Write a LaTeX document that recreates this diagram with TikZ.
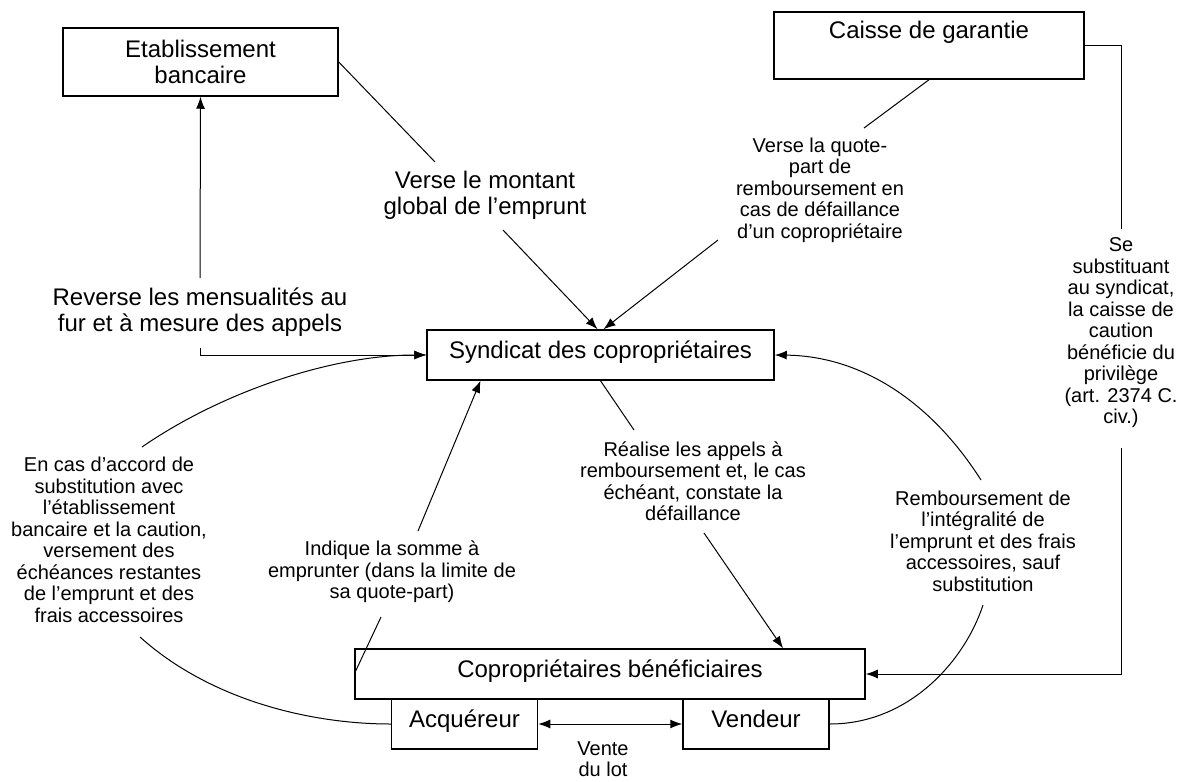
\documentclass[tikz,border=0pt]{standalone}
\usepackage{fontspec}
\setmainfont{Liberation Sans}
\usetikzlibrary{arrows.meta}
\newcommand{\BigFnt}{\fontsize{24}{26}\selectfont}
\newcommand{\SmallFnt}{\fontsize{20}{21.5}\selectfont}
\begin{document}
\begin{tikzpicture}[x=1pt,y=-1pt,
  box/.style={draw,line width=1.5pt,inner sep=0pt,align=center,font=\BigFnt},
  onebox/.style={box,text height=17.5pt,text depth=10pt},
  big/.style={align=center,font=\BigFnt,inner sep=0pt},
  small/.style={align=center,font=\SmallFnt,inner sep=0pt},
  conn/.style={line width=1pt},
  arr/.style={conn,-{Latex[length=12pt,width=9pt]}},
  darr/.style={conn,{Latex[length=12pt,width=9pt]}-{Latex[length=12pt,width=9pt]}}
]
\useasboundingbox[fill=white] (0,0) rectangle (1182,781);
% boxes
\node[box,minimum width=275pt,minimum height=68pt] (bank) at (200.5,62) {Etablissement\\bancaire};
\node[box,minimum width=310pt,minimum height=67pt] (caisse) at (929,45.5) {};
\node[big] (caissetxt) at (929,32) {Caisse de garantie};
\node[onebox,minimum width=347pt,minimum height=50pt] (synd) at (600.5,355) {Syndicat des copropriétaires};
\node[onebox,minimum width=510pt,minimum height=50pt] (copro) at (610,674) {Copropriétaires bénéficiaires};
\node[onebox,minimum width=146pt,minimum height=50pt] (acq) at (464.5,724) {Acquéreur};
\node[onebox,minimum width=146pt,minimum height=50pt] (vend) at (756,724) {Vendeur};
% labels
\node[big] (l1) at (485,195) {Verse le montant\\global de l’emprunt};
\node[small] (l2) at (820,190) {Verse la quote-\\part de\\remboursement en\\cas de défaillance\\d’un copropriétaire};
\node[big] (l3) at (200,312) {Reverse les mensualités au\\fur et à mesure des appels};
\node[small] (l4) at (109,540) {En cas d’accord de\\substitution avec\\l’établissement\\bancaire et la caution,\\versement des\\échéances restantes\\de l’emprunt et des\\frais accessoires};
\node[small] (l5) at (392,572) {Indique la somme à\\emprunter (dans la limite de\\sa quote-part)};
\node[small] (l6) at (693,481) {Réalise les appels à\\remboursement et, le cas\\échéant, constate la\\défaillance};
\node[small] (l7) at (983,541) {Remboursement de\\l’intégralité de\\l’emprunt et des frais\\accessoires, sauf\\substitution};
\node[small] (l8) at (1121,333) {Se\\substituant\\au syndicat,\\la caisse de\\caution\\bénéficie du\\privilège\\(art. 2374 C.\\civ.)};
\node[small] (l9) at (603,759) {Vente\\du lot};
% connector end points
\coordinate (a1) at (435,162); \coordinate (a2) at (503,230);
\coordinate (b1) at (864,128); \coordinate (b2) at (718,240);
\coordinate (c1) at (200,278); \coordinate (c2) at (200,348);
\coordinate (d1) at (142,447); \coordinate (d2) at (140,637);
\coordinate (e1) at (418,531); \coordinate (e2) at (381,617);
\coordinate (f1) at (634,430); \coordinate (f2) at (704,533);
\coordinate (g1) at (981,480); \coordinate (g2) at (983,605);
\coordinate (h1) at (1121,229); \coordinate (h2) at (1121,448);
% connectors
\draw[conn] (bank.east) -- (a1);
\draw[arr] (a2) -- ([xshift=-3pt]synd.north);
\draw[conn] (caisse.south) -- (b1);
\draw[arr] (b2) -- ([xshift=3pt]synd.north);
\draw[arr] (c1) -- (bank.south);
\draw[arr] (c2) |- (synd.west);
\draw[arr] (d1) .. controls (220,393) and (330,355) .. (synd.west);
\draw[conn] (d2) .. controls (210,700) and (310,724) .. (acq.west);
\draw[arr] (e1) -- ([xshift=-120pt]synd.south);
\draw[conn] (e2) -- (copro.west);
\draw[conn] (synd.south) -- (f1);
\draw[arr] (f2) -- ([xshift=173pt]copro.north);
\draw[arr] (g1) .. controls (930,400) and (860,356) .. (synd.east);
\draw[conn] (g2) .. controls (965,660) and (910,724) .. (vend.east);
\draw[conn] (caisse.east) -| (h1);
\draw[arr] (h2) |- (copro.east);
\draw[darr] (acq.east) -- (vend.west);
\end{tikzpicture}
\end{document}
